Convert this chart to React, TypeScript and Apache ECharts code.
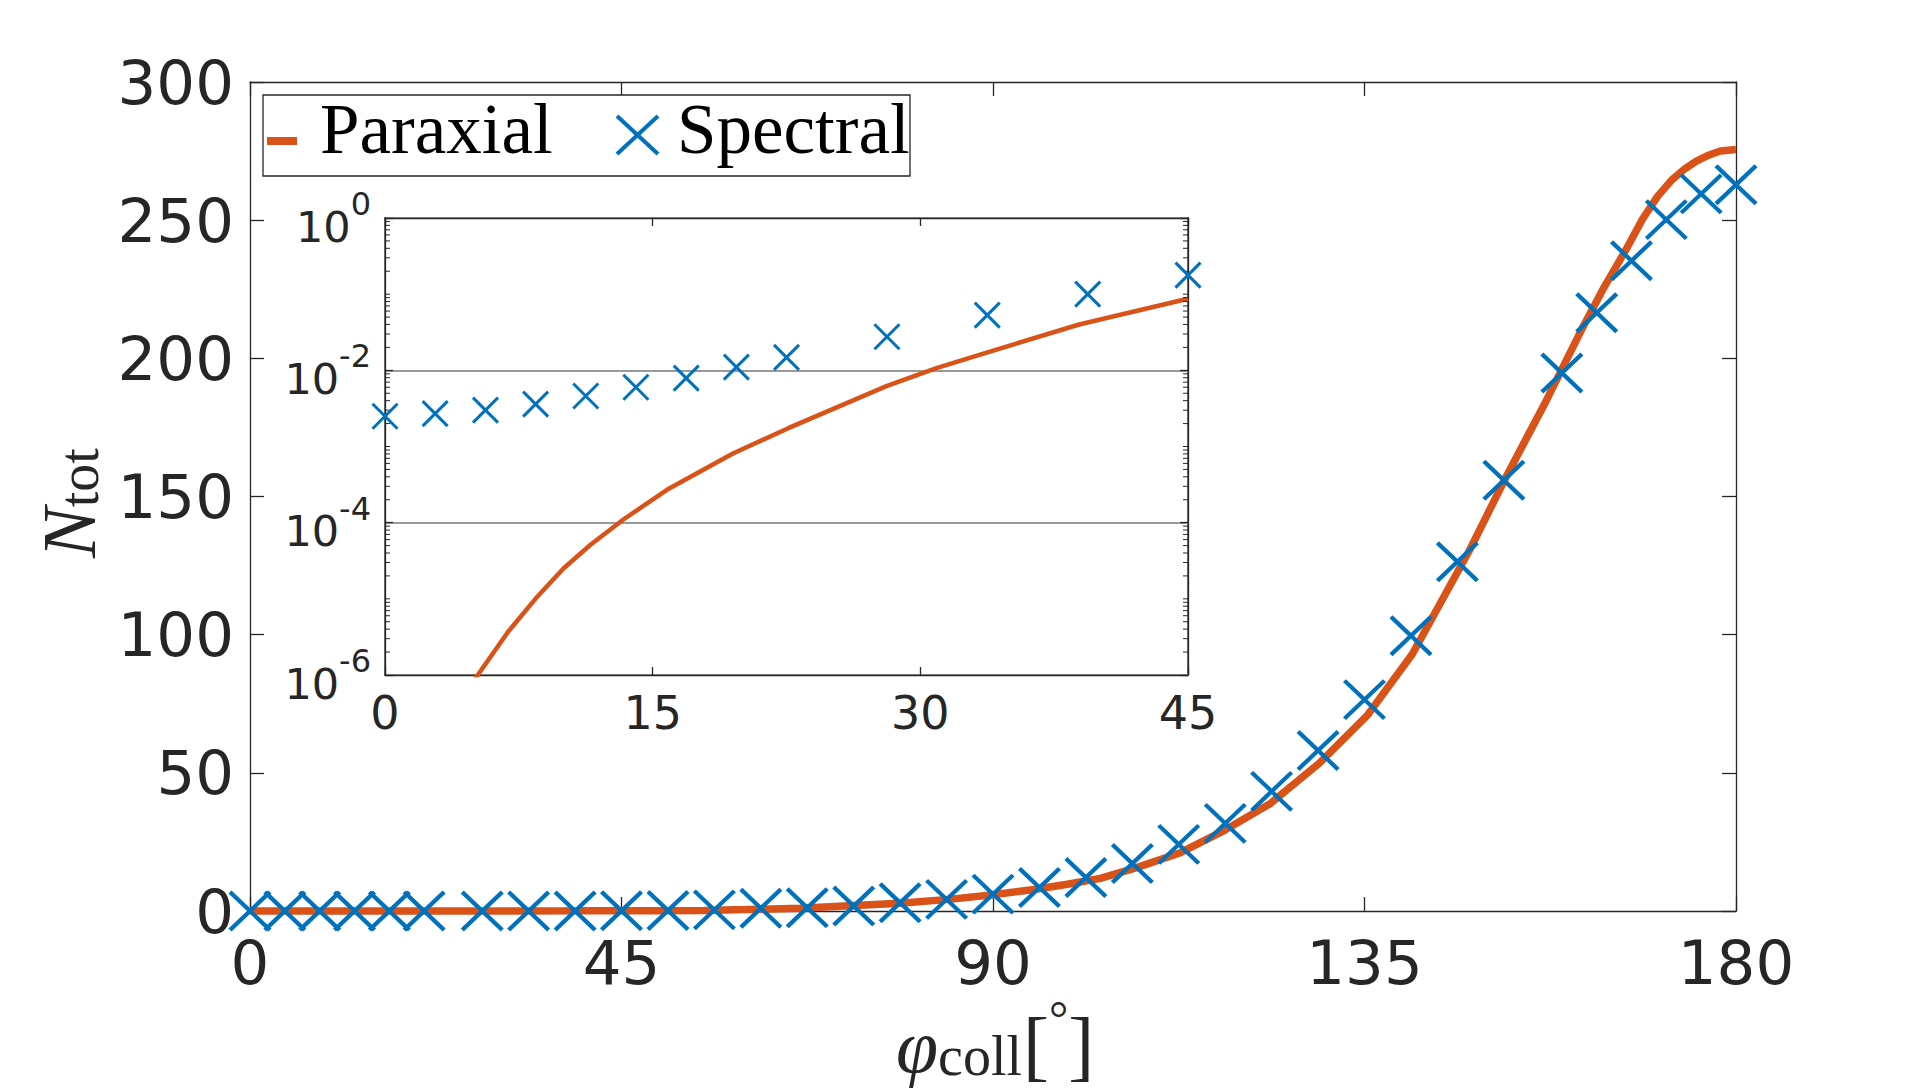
import React, { useEffect, useRef } from "react";
import * as echarts from "echarts";

// ---------- data ----------
const spectralAngles = [0, 4.22, 8.44, 12.66, 16.88, 21.09, 28.13, 33.75, 39.38, 45, 50.63, 56.25, 61.88, 67.5, 73.13, 78.75, 84.38, 90, 95.63, 101.25, 106.88, 112.5, 118.13, 123.75, 129.38, 135, 140.63, 146.25, 151.88, 158.91, 163.13, 167.34, 171.56, 175.78, 180];
const spectralValues = [0, 0, 0, 0, 0, 0, 0, 0, 0, 0.1, 0.2, 0.4, 1.0, 1.2, 1.8, 3.0, 4.2, 6.1, 8.5, 12.1, 17.2, 24.1, 31.7, 43.3, 58.1, 76.5, 99.6, 126.4, 155.9, 194.7, 216.5, 235.3, 250.2, 259.5, 262.8];

const paraxialAngles = [0, 20, 40, 50, 55, 60, 66.6, 72, 78.7, 85, 90, 95, 99, 103, 107.3, 112.7, 118.1, 123.5, 129.5, 135.4, 140.8, 147.8, 152.1, 157, 161.3, 164, 166.8, 168.7, 170.5, 172.2, 173.8, 175.2, 176.5, 178.1, 180];
const paraxialValues = [0, 0, 0.05, 0.1, 0.2, 0.5, 1.0, 1.8, 2.8, 4.3, 5.9, 7.8, 9.7, 11.8, 15.6, 21.1, 29.3, 38.7, 53.4, 71, 93, 131, 156.8, 184.6, 210.4, 225.6, 240, 250.5, 258.6, 264.5, 268.6, 271.4, 273.3, 275, 275.6];

const insetParaxialAngles = [4.0, 5.2, 6.9, 8.43, 10.0, 11.5, 13.36, 15.8, 19.5, 22.6, 28.1, 30.9, 33.9, 38.9, 45];
const insetParaxialValues = [4e-7, 1.0e-6, 3.7e-6, 1.0e-5, 2.5e-5, 5.1e-5, 1.1e-4, 2.7e-4, 8.1e-4, 1.74e-3, 6.2e-3, 1.07e-2, 1.76e-2, 4.0e-2, 8.7e-2];

const insetSpectralAngles = [0, 2.81, 5.63, 8.44, 11.25, 14.06, 16.88, 19.69, 22.5, 28.13, 33.75, 39.38, 45];
const insetSpectralValues = [2.5e-3, 2.7e-3, 3.0e-3, 3.6e-3, 4.6e-3, 6.0e-3, 7.9e-3, 1.1e-2, 1.48e-2, 2.76e-2, 5.3e-2, 0.1, 0.178];

const mainXTicks = [0, 45, 90, 135, 180];
const mainYTicks = [0, 50, 100, 150, 200, 250, 300];
const insetXTicks = [0, 15, 30, 45];
const insetDecades = [-6, -5, -4, -3, -2, -1];
const minorMultipliers = [2, 3, 4, 5, 6, 7, 8, 9];

const seriesNames = ["Paraxial", "Spectral"];

// ---------- styles ----------
const ORANGE = "#D95319";
const BLUE = "#0072BD";
const AXIS = "#262626";
const SANS = "DejaVu Sans";
const SERIF = "Liberation Serif";

const xPath = "path://M0,0L1,1M1,0L0,1";

export default function App() {
  const ref = useRef<HTMLDivElement>(null);

  useEffect(() => {
    if (!ref.current) return;
    const chart = echarts.init(ref.current, undefined, { renderer: "svg" });

    const log10 = (v: number) => Math.log10(v);
    const minorTicks: number[][] = [];
    insetDecades.forEach((d) => {
      minorMultipliers.forEach((m) => minorTicks.push([0, d + Math.log10(m)]));
      if (d % 2 !== 0) minorTicks.push([0, d]);
    });

    const tickLabel = { color: AXIS, fontFamily: SANS };
    const axisLine = { show: true, onZero: false, lineStyle: { color: AXIS, width: 1.3 } };
    const mainTick = { show: true, inside: true, length: 14, lineStyle: { color: AXIS, width: 1.3 } };
    const insetTick = { show: true, inside: true, length: 8, lineStyle: { color: AXIS, width: 1.3 } };

    const txt = (text: string, x: number, y: number, size: number, opts: any = {}) => ({
      type: "text",
      x,
      y,
      rotation: opts.rotation || 0,
      z: 100,
      style: {
        text,
        fill: opts.fill || "#000",
        font: `${opts.italic ? "italic " : ""}${size}px "${SERIF}"`,
        fontSize: size,
        fontFamily: SERIF,
        fontStyle: opts.italic ? "italic" : "normal",
        textAlign: "left",
        textVerticalAlign: "middle",
        align: "left",
        verticalAlign: "middle",
        ...(opts.rich ? { rich: opts.rich } : {}),
      },
    });

    const richTok = (size: number, lineHeight: number, va: string, extra: any = {}) => ({
      fontSize: size, fontFamily: SERIF, fill: AXIS, color: AXIS, lineHeight, verticalAlign: va, ...extra,
    });

    const option: any = {
      animation: false,
      backgroundColor: "#fff",
      grid: [
        { left: 250, top: 82, width: 1486, height: 829, show: false },
        { left: 385, top: 218, width: 803, height: 457, show: true, backgroundColor: "#fff", borderColor: AXIS, borderWidth: 1.3, z: 5 },
      ],
      xAxis: [
        {
          type: "value", gridIndex: 0, position: "bottom", min: mainXTicks[0], max: mainXTicks[mainXTicks.length - 1], interval: 45,
          axisLine, axisTick: mainTick,
          axisLabel: { ...tickLabel, fontSize: 61, margin: 21 }, splitLine: { show: false },
        },
        {
          type: "value", gridIndex: 0, position: "top", min: 0, max: 180, interval: 45,
          axisLine, axisTick: mainTick, axisLabel: { show: false }, splitLine: { show: false },
        },
        {
          type: "value", gridIndex: 1, position: "bottom", min: insetXTicks[0], max: insetXTicks[insetXTicks.length - 1], interval: 15,
          axisLine, axisTick: insetTick,
          axisLabel: { ...tickLabel, fontSize: 46, margin: 15 }, splitLine: { show: false }, z: 6,
        },
        {
          type: "value", gridIndex: 1, position: "top", min: 0, max: 45, interval: 15,
          axisLine, axisTick: insetTick, axisLabel: { show: false }, splitLine: { show: false }, z: 6,
        },
      ],
      yAxis: [
        {
          type: "value", gridIndex: 0, position: "left", min: mainYTicks[0], max: mainYTicks[mainYTicks.length - 1], interval: 50,
          axisLine, axisTick: mainTick,
          axisLabel: { ...tickLabel, fontSize: 61, margin: 16 }, splitLine: { show: false },
        },
        {
          type: "value", gridIndex: 0, position: "right", min: 0, max: 300, interval: 50,
          axisLine, axisTick: mainTick, axisLabel: { show: false }, splitLine: { show: false },
        },
        {
          type: "value", gridIndex: 1, position: "left", min: -6, max: 0, interval: 2,
          axisLine, axisTick: insetTick,
          axisLabel: {
            ...tickLabel, margin: 14,
            formatter: (v: number) => `{b|10}{s|${v}}`,
            rich: {
              b: { fontSize: 43, fontFamily: SANS, color: AXIS, lineHeight: 60, verticalAlign: "bottom" },
              s: { fontSize: 32, fontFamily: SANS, color: AXIS, lineHeight: 22, verticalAlign: "top" },
            },
          },
          splitLine: { show: true, lineStyle: { color: "#9a9a9a", width: 1.8 } }, z: 6,
        },
        {
          type: "value", gridIndex: 1, position: "right", min: -6, max: 0, interval: 2,
          axisLine, axisTick: insetTick, axisLabel: { show: false }, splitLine: { show: false }, z: 6,
        },
      ],
      series: [
        {
          name: seriesNames[0], type: "line", xAxisIndex: 0, yAxisIndex: 0,
          data: paraxialAngles.map((a, i) => [a, paraxialValues[i]]),
          showSymbol: false, symbol: "none", lineStyle: { color: ORANGE, width: 7.5 }, itemStyle: { color: ORANGE }, z: 3, clip: false,
        },
        {
          name: seriesNames[1], type: "scatter", xAxisIndex: 0, yAxisIndex: 0,
          data: spectralAngles.map((a, i) => [a, spectralValues[i]]),
          symbol: xPath, symbolSize: [40, 38], clip: false,
          itemStyle: { color: "rgba(0,0,0,0)", borderColor: BLUE, borderWidth: 4.2, opacity: 1 }, z: 4,
        },
        {
          name: seriesNames[0], type: "line", xAxisIndex: 2, yAxisIndex: 2,
          data: insetParaxialAngles.map((a, i) => [a, log10(insetParaxialValues[i])]),
          showSymbol: false, symbol: "none", lineStyle: { color: ORANGE, width: 4.5 }, itemStyle: { color: ORANGE }, z: 8, clip: true,
        },
        {
          name: seriesNames[1], type: "scatter", xAxisIndex: 2, yAxisIndex: 2,
          data: insetSpectralAngles.map((a, i) => [a, log10(insetSpectralValues[i])]),
          symbol: xPath, symbolSize: 25, clip: false,
          itemStyle: { color: "rgba(0,0,0,0)", borderColor: BLUE, borderWidth: 3, opacity: 1 }, z: 9,
        },
        {
          name: "minorTicks", type: "custom", xAxisIndex: 2, yAxisIndex: 2, z: 9, silent: true,
          data: minorTicks,
          renderItem: (params: any, api: any) => {
            const v = api.value(1);
            const p = api.coord([0, v]);
            const q = api.coord([45, v]);
            const ls = { stroke: AXIS, lineWidth: 1 };
            return {
              type: "group",
              children: [
                { type: "line", shape: { x1: p[0], y1: p[1], x2: p[0] + 5, y2: p[1] }, style: ls },
                { type: "line", shape: { x1: q[0] - 5, y1: q[1], x2: q[0], y2: q[1] }, style: ls },
              ],
            };
          },
        },
      ],
      graphic: [
        // legend
        { type: "rect", z: 100, shape: { x: 263, y: 95, width: 647, height: 81 }, style: { fill: "#fff", stroke: AXIS, lineWidth: 1.3 } },
        { type: "line", z: 101, shape: { x1: 267, y1: 141, x2: 297, y2: 141 }, style: { stroke: ORANGE, lineWidth: 8 } },
        txt(seriesNames[0], 320, 129, 71),
        { type: "line", z: 101, shape: { x1: 617, y1: 116, x2: 658, y2: 154 }, style: { stroke: BLUE, lineWidth: 4 } },
        { type: "line", z: 101, shape: { x1: 617, y1: 154, x2: 658, y2: 116 }, style: { stroke: BLUE, lineWidth: 4 } },
        txt(seriesNames[1], 677, 129, 71),
        // y-axis title N_tot (single rich text, rotated)
        txt("{n|N}{t|tot}", 62, 558, 76, {
          rotation: Math.PI / 2,
          fill: AXIS,
          rich: {
            n: richTok(76, 90, "bottom", { fontStyle: "italic" }),
            t: richTok(56, 56, "bottom"),
          },
        }),
        // x-axis title phi_coll [°] (single rich text)
        txt("{p|φ}{c|coll}{bl|[}{d|°}{br|]}", 896, 1039, 76, {
          fill: AXIS,
          rich: {
            p: richTok(76, 90, "bottom", { fontStyle: "italic" }),
            c: richTok(56, 56, "bottom"),
            bl: richTok(78, 90, "bottom", { padding: [0, 0, 0, 1] }),
            d: richTok(48, 72, "top"),
            br: richTok(78, 90, "bottom"),
          },
        }),
      ],
    };

    chart.setOption(option);
    return () => chart.dispose();
  }, []);

  return <div ref={ref} style={{ position: "fixed", left: 0, top: 0, width: 1920, height: 1090 }} />;
}
